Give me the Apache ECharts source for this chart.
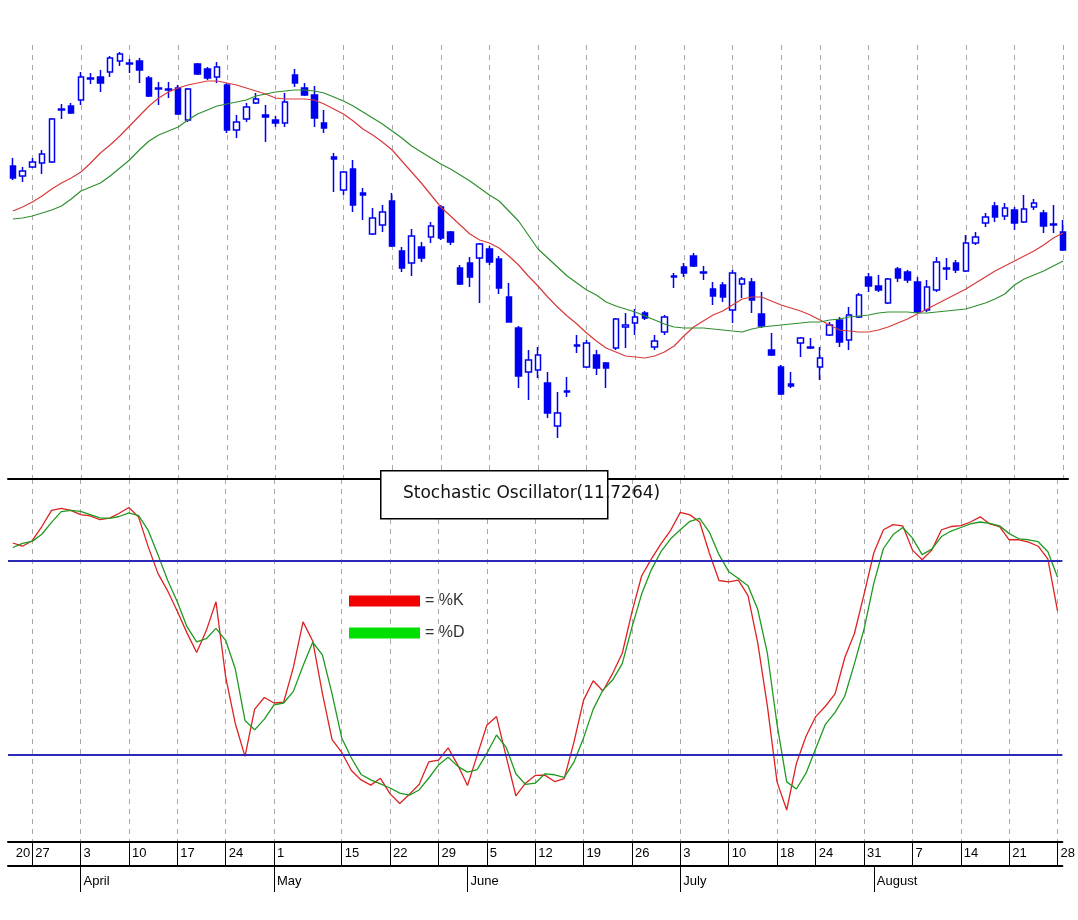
<!DOCTYPE html>
<html>
<head>
<meta charset="utf-8">
<script src="https://cdn.jsdelivr.net/npm/echarts@6/dist/echarts.min.js"></script>
<style>
html, body { margin: 0; padding: 0; background: #fff; }
#main { width: 1078px; height: 920px; }
</style>
</head>
<body>
<div id="main"></div>
<script>
// trading days shown on the chart
const dates = [
  '3/23', '3/24', '3/27', '3/28', '3/29', '3/30', '3/31',
  '4/3', '4/4', '4/5', '4/6', '4/7', '4/10', '4/11', '4/12', '4/13', '4/14',
  '4/17', '4/18', '4/19', '4/20', '4/21', '4/24', '4/25', '4/26', '4/27', '4/28',
  '5/1', '5/2', '5/3', '5/4', '5/5', '5/9', '5/10',
  '5/15', '5/16', '5/17', '5/18', '5/19', '5/22', '5/23', '5/24', '5/25', '5/26',
  '5/29', '5/30', '5/31', '6/1', '6/2',
  '6/5', '6/6', '6/7', '6/8', '6/9', '6/12', '6/13', '6/14', '6/15', '6/16',
  '6/19', '6/20', '6/21', '6/22', '6/23', '6/26', '6/27', '6/28', '6/29', '6/30',
  '7/3', '7/4', '7/5', '7/6', '7/7', '7/10', '7/11', '7/12', '7/13', '7/14',
  '7/18', '7/19', '7/20', '7/21', '7/24', '7/25', '7/26', '7/27', '7/28',
  '7/31', '8/1', '8/2', '8/3', '8/4', '8/7', '8/8', '8/9', '8/10', '8/11',
  '8/14', '8/15', '8/16', '8/17', '8/18', '8/21', '8/22', '8/23', '8/24', '8/25', '8/28'
]

// week labels in the date box
const weekDates = ['3/23', '3/27', '4/3', '4/10', '4/17', '4/24', '5/1', '5/15', '5/22', '5/29',
  '6/5', '6/12', '6/19', '6/26', '7/3', '7/10', '7/18', '7/24', '7/31', '8/7', '8/14', '8/21', '8/28']
const weekNames = ['20', '27', '3', '10', '17', '24', '1', '15', '22', '29',
  '5', '12', '19', '26', '3', '10', '18', '24', '31', '7', '14', '21', '28']

// month labels
const monthDates = ['4/3', '5/1', '6/1', '7/3', '8/1']
const monthNames = ['April', 'May', 'June', 'July', 'August']

// open, close, low, high
const candles = [
  [43.4, 42.2, 42.0, 44.2], [42.4, 42.9, 41.8, 43.3], [43.3, 43.8, 43.2, 44.2], [43.7, 44.6, 42.6, 45.0],
  [43.8, 48.1, 43.7, 48.2], [49.0, 49.1, 48.1, 49.6], [49.4, 48.7, 48.6, 49.7], [50.0, 52.3, 49.5, 52.8],
  [52.1, 52.2, 51.6, 52.7], [52.3, 51.7, 50.8, 53.0], [52.8, 54.2, 52.3, 54.4], [53.9, 54.6, 53.4, 54.8],
  [53.6, 53.7, 52.7, 54.1], [53.9, 53.0, 51.7, 54.2], [52.2, 50.4, 50.3, 52.4], [51.1, 51.2, 49.5, 51.8],
  [51.0, 51.1, 50.2, 51.8], [51.2, 48.6, 48.5, 51.5], [48.0, 51.1, 47.8, 51.2], [53.6, 52.6, 52.5, 53.7],
  [53.1, 52.2, 52.0, 53.3], [52.3, 53.3, 51.7, 53.8], [51.5, 47.0, 46.7, 51.7], [47.0, 47.8, 46.2, 48.5],
  [48.1, 49.3, 47.8, 49.7], [49.7, 50.1, 49.6, 50.7], [48.5, 48.3, 45.8, 49.5], [48.0, 47.7, 47.3, 48.4],
  [47.7, 49.8, 47.3, 50.7], [52.5, 51.7, 51.3, 53.1], [51.2, 50.5, 50.4, 51.7], [50.5, 48.2, 47.3, 51.4],
  [47.7, 47.2, 46.7, 49.0], [44.3, 44.1, 40.8, 44.7], [41.0, 42.8, 40.5, 42.9], [43.1, 39.5, 38.8, 44.0],
  [40.7, 40.5, 38.0, 41.2], [36.6, 38.2, 36.5, 39.2], [37.5, 38.8, 36.8, 39.5], [39.9, 35.4, 35.3, 40.7],
  [34.9, 33.2, 32.8, 35.3], [33.7, 36.4, 32.4, 37.1], [35.3, 34.2, 33.8, 35.8], [36.3, 37.4, 35.7, 37.8],
  [39.3, 36.2, 36.0, 39.5], [36.8, 35.8, 35.5, 36.9], [33.2, 31.6, 31.5, 33.5], [33.7, 32.3, 31.3, 34.3],
  [34.2, 35.6, 29.7, 35.7], [35.1, 33.8, 33.5, 35.4], [34.1, 31.2, 30.6, 34.4], [30.3, 27.8, 27.8, 31.7],
  [27.2, 22.4, 21.2, 27.4], [22.8, 24.0, 20.0, 25.0], [23.0, 24.5, 22.2, 25.3], [21.7, 18.7, 18.2, 22.8],
  [17.4, 18.7, 16.2, 20.8], [20.8, 20.9, 20.3, 22.3], [25.4, 25.5, 24.7, 26.5], [23.3, 25.7, 23.2, 26.0],
  [24.5, 23.2, 22.5, 25.0], [23.7, 23.2, 21.2, 23.8], [25.2, 28.1, 25.0, 28.2], [27.3, 27.5, 25.2, 28.7],
  [27.7, 28.3, 26.5, 29.1], [28.7, 28.2, 28.0, 28.9], [25.3, 25.9, 25.0, 26.5], [26.8, 28.3, 26.5, 28.5],
  [32.3, 32.4, 31.2, 32.7], [33.3, 32.7, 32.3, 33.7], [34.4, 33.4, 33.3, 34.7], [32.8, 32.7, 32.0, 33.4],
  [31.1, 30.4, 29.5, 31.8], [31.5, 30.3, 29.8, 31.8], [29.0, 32.7, 27.7, 33.0], [31.6, 32.1, 30.2, 32.3],
  [31.8, 30.0, 28.7, 32.2], [28.6, 27.4, 27.2, 30.8], [25.0, 24.5, 24.4, 26.7], [23.3, 20.6, 20.5, 23.5],
  [21.6, 21.4, 21.2, 22.8], [25.7, 26.2, 24.3, 26.3], [25.3, 25.2, 25.1, 26.2], [23.3, 24.2, 22.0, 25.3],
  [26.5, 27.5, 26.4, 27.8], [28.0, 25.8, 25.3, 28.3], [26.0, 28.5, 25.0, 29.3], [28.3, 30.5, 28.2, 30.7],
  [32.3, 31.4, 30.8, 32.7], [31.4, 31.0, 30.8, 32.5], [29.7, 32.1, 29.6, 32.2], [33.1, 32.2, 31.8, 33.3],
  [32.8, 32.0, 31.7, 33.0], [31.8, 28.8, 28.7, 32.3], [29.0, 31.3, 28.8, 32.0], [31.0, 33.8, 30.8, 34.3],
  [33.1, 33.2, 32.0, 34.2], [33.7, 33.0, 32.7, 34.0], [32.9, 35.7, 32.8, 36.5], [35.7, 36.3, 35.5, 36.8],
  [37.7, 38.3, 37.3, 38.7], [39.4, 38.3, 37.8, 39.8], [38.4, 39.2, 38.0, 39.7], [39.0, 37.7, 37.0, 39.3],
  [37.8, 39.1, 37.7, 40.5], [39.3, 39.7, 39.0, 40.1], [38.7, 37.4, 36.7, 39.0], [37.5, 37.6, 36.7, 39.5],
  [36.8, 35.0, 34.9, 38.0]
]

// moving averages (red = fast, green = slow)
const maFast = [
  38.9, 39.3, 39.8, 40.4, 41.1, 41.7, 42.2, 42.8, 43.7, 44.7,
  45.5, 46.4, 47.4, 48.4, 49.4, 50.2, 50.8, 51.2, 51.5, 51.7,
  51.9, 51.9, 51.7, 51.5, 51.2, 50.9, 50.6, 50.2, 50.1, 50.1,
  50.1, 50.0, 49.6, 49.1, 48.6, 47.9, 47.1, 46.5, 45.8, 45.0,
  43.9, 42.8, 41.7, 40.5, 39.3, 38.4, 37.5, 36.6, 36.0, 35.7,
  35.2, 34.4, 33.5, 32.4, 31.4, 30.3, 29.3, 28.4, 27.6, 26.7,
  25.9, 25.2, 24.8, 24.4, 24.3, 24.2, 24.4, 24.8, 25.4, 26.4,
  27.3, 27.9, 28.5, 28.9, 29.5, 30.1, 30.3, 30.3, 29.9, 29.5,
  29.2, 28.9, 28.5, 28.0, 27.5, 27.0, 26.9, 26.8, 26.8, 27.0,
  27.3, 27.7, 28.1, 28.6, 29.1, 29.6, 30.1, 30.6, 31.1, 31.7,
  32.3, 32.9, 33.4, 33.9, 34.4, 34.9, 35.5, 36.2, 36.7
]
const maSlow = [
  38.1, 38.2, 38.4, 38.7, 39.0, 39.4, 40.1, 40.9, 41.3, 41.7,
  42.4, 43.2, 44.0, 45.0, 45.9, 46.5, 46.9, 47.3, 48.0, 48.6,
  49.0, 49.4, 49.6, 49.8, 50.0, 50.4, 50.6, 50.8, 50.9, 51.0,
  51.0, 50.9, 50.7, 50.3, 49.9, 49.4, 48.8, 48.2, 47.6, 46.9,
  46.2, 45.4, 44.8, 44.2, 43.6, 43.1, 42.5, 41.9, 41.2, 40.5,
  39.9, 38.9, 37.9, 36.5, 35.1, 34.2, 33.3, 32.4, 31.7, 31.0,
  30.5, 29.8, 29.4, 29.1, 28.8, 28.4, 28.0, 27.6, 27.3, 27.2,
  27.2, 27.2, 27.1, 27.0, 26.9, 26.8, 27.1, 27.3, 27.4, 27.5,
  27.6, 27.7, 27.8, 27.8, 28.0, 28.1, 28.3, 28.4, 28.5, 28.7,
  28.8, 28.8, 28.8, 28.7, 28.7, 28.8, 28.9, 29.0, 29.1, 29.4,
  29.7, 30.1, 30.6, 31.5, 32.1, 32.5, 32.9, 33.4, 33.9
]

// stochastic oscillator
const pctK = [
  85.6, 84.6, 86.3, 90.7, 95.7, 96.3, 95.7, 94.4, 94.0, 92.8,
  93.3, 94.8, 96.6, 93.6, 84.4, 76.2, 70.8, 64.5, 57.8, 51.7,
  58.5, 67.4, 44.2, 29.7, 19.6, 34.2, 37.8, 36.1, 36.4, 47.1,
  61.2, 55.3, 39.1, 24.8, 20.8, 15.2, 12.3, 10.7, 12.8, 8.0,
  5.0, 7.9, 10.9, 17.9, 18.4, 22.2, 16.9, 10.6, 19.9, 29.2,
  31.9, 19.5, 7.4, 11.3, 13.7, 13.8, 11.8, 12.7, 23.9, 37.0,
  43.0, 39.8, 45.2, 51.5, 64.2, 75.4, 80.6, 85.3, 89.5, 95.1,
  94.3, 92.1, 82.5, 74.0, 73.6, 74.1, 69.3, 54.8, 35.2, 11.7,
  3.0, 17.4, 25.8, 31.9, 35.1, 38.9, 50.1, 57.6, 69.8, 82.5,
  89.7, 91.3, 90.9, 83.4, 80.4, 83.4, 89.7, 90.7, 91.0, 92.1,
  93.7, 91.5, 90.7, 86.6, 86.6, 85.9, 84.6, 80.6, 64.5
]
const pctD = [
  84.2, 85.5, 86.1, 88.3, 92.0, 95.3, 95.7, 95.4, 94.4, 93.4,
  93.2, 93.8, 94.9, 94.1, 89.5, 82.0, 74.1, 67.4, 59.7, 55.0,
  56.0, 59.2, 55.5, 46.6, 30.7, 27.8, 31.1, 35.5, 36.1, 39.7,
  47.6, 54.9, 51.0, 38.9, 25.3, 19.1, 14.0, 12.3, 11.1, 9.8,
  8.2, 7.6, 9.2, 12.9, 16.9, 19.3, 16.5, 14.7, 15.5, 20.5,
  26.2, 22.4, 14.2, 10.9, 11.3, 14.2, 13.9, 13.1, 17.8, 25.3,
  34.2, 40.1, 43.2, 48.3, 59.5, 69.8, 77.3, 82.9, 86.9, 89.7,
  92.3, 93.2, 89.0, 82.0, 76.8, 74.6, 72.4, 65.1, 51.5, 29.5,
  11.7, 9.5, 14.4, 22.0, 29.5, 33.2, 38.2, 48.3, 59.0, 73.1,
  83.9, 88.2, 90.4, 87.1, 82.0, 83.7, 87.6, 89.3, 90.4, 91.5,
  92.1, 91.7, 90.9, 88.5, 86.9, 86.6, 86.0, 82.9, 75.0
]
const bands = [80, 20]

const font = 'Liberation Sans'
const isWeek = (i, v) => i > 0 && weekDates.indexOf(v) >= 0
const gridDash = {
  show: true,
  interval: isWeek,
  alignWithLabel: true,
  lineStyle: { color: '#a8a8a8', type: [5, 5], width: 1 }
}

const option = {
  animation: false,
  backgroundColor: '#fff',
  grid: [
    { left: 8, right: 10, top: 45, height: 434 },
    { left: 8, right: 10, top: 479, height: 363 }
  ],
  legend: {
    left: 349,
    top: 593,
    padding: 0,
    orient: 'vertical',
    icon: 'rect',
    itemWidth: 71,
    itemHeight: 11,
    itemGap: 16,
    textStyle: { fontFamily: font, fontSize: 16, color: '#333' },
    formatter: name => '= ' + name,
    data: [
      { name: '%K', itemStyle: { color: '#f00000' } },
      { name: '%D', itemStyle: { color: '#00e000' } }
    ]
  },
  xAxis: [
    {
      gridIndex: 0,
      type: 'category',
      data: dates,
      axisLine: { show: true, onZero: false, lineStyle: { color: '#000', width: 2 } },
      axisTick: { show: false },
      axisLabel: { show: false },
      splitLine: gridDash
    },
    {
      gridIndex: 1,
      type: 'category',
      data: dates,
      position: 'bottom',
      axisLine: { show: true, onZero: false, lineStyle: { color: '#000', width: 2 } },
      axisTick: { show: true, alignWithLabel: true, interval: isWeek, length: 23, lineStyle: { color: '#000' } },
      axisLabel: {
        interval: (i, v) => weekDates.indexOf(v) >= 0,
        formatter: v => weekNames[weekDates.indexOf(v)],
        align: 'left',
        padding: [0, 0, 0, 3],
        margin: 5,
        fontFamily: font,
        fontSize: 13,
        color: '#000'
      },
      splitLine: gridDash
    },
    {
      gridIndex: 1,
      type: 'category',
      data: dates,
      position: 'bottom',
      offset: 24,
      axisLine: { show: true, onZero: false, lineStyle: { color: '#000', width: 2 } },
      axisTick: {
        show: true,
        alignWithLabel: true,
        interval: (i, v) => monthDates.indexOf(v) >= 0,
        length: 26,
        lineStyle: { color: '#000' }
      },
      axisLabel: {
        interval: (i, v) => monthDates.indexOf(v) >= 0,
        formatter: v => monthNames[monthDates.indexOf(v)],
        align: 'left',
        padding: [0, 0, 0, 3],
        margin: 9,
        fontFamily: font,
        fontSize: 13,
        color: '#000'
      }
    }
  ],
  yAxis: [
    { gridIndex: 0, type: 'value', min: 12.1, max: 55.5, show: false },
    { gridIndex: 1, type: 'value', min: -6.9, max: 105.4, show: false }
  ],
  graphic: [
    {
      type: 'rect',
      left: 380,
      top: 470,
      z: 100,
      shape: { width: 227, height: 48 },
      style: { fill: '#fff', stroke: '#000', lineWidth: 1.5 }
    },
    {
      type: 'text',
      left: 403,
      top: 485,
      z: 101,
      style: { text: 'Stochastic Oscillator(11.7264)', font: '17px "DejaVu Sans"', fill: '#111' }
    }
  ],
  series: [
    {
      name: 'price',
      type: 'candlestick',
      xAxisIndex: 0,
      yAxisIndex: 0,
      barWidth: 6,
      data: candles,
      itemStyle: {
        color: '#ffffff',
        color0: '#0000f0',
        borderColor: '#0000f0',
        borderColor0: '#0000f0',
        borderWidth: 1.5
      }
    },
    {
      name: 'MA fast',
      type: 'line',
      xAxisIndex: 0,
      yAxisIndex: 0,
      data: maFast,
      showSymbol: false,
      lineStyle: { color: '#d83a3a', width: 1.2 }
    },
    {
      name: 'MA slow',
      type: 'line',
      xAxisIndex: 0,
      yAxisIndex: 0,
      data: maSlow,
      showSymbol: false,
      lineStyle: { color: '#2f8f2f', width: 1.2 }
    },
    {
      name: '%K',
      type: 'line',
      xAxisIndex: 1,
      yAxisIndex: 1,
      data: pctK,
      showSymbol: false,
      color: '#dd2222',
      lineStyle: { color: '#dd2222', width: 1.3 },
      markLine: {
        silent: true,
        symbol: 'none',
        label: { show: false },
        lineStyle: { color: '#2b2bb8', width: 2, type: 'solid' },
        data: bands.map(v => ({ yAxis: v }))
      }
    },
    {
      name: '%D',
      type: 'line',
      xAxisIndex: 1,
      yAxisIndex: 1,
      data: pctD,
      showSymbol: false,
      color: '#1f9a1f',
      lineStyle: { color: '#1f9a1f', width: 1.3 }
    }
  ]
}

const myChart = echarts.init(document.getElementById('main'))
myChart.setOption(option)
</script>
</body>
</html>
